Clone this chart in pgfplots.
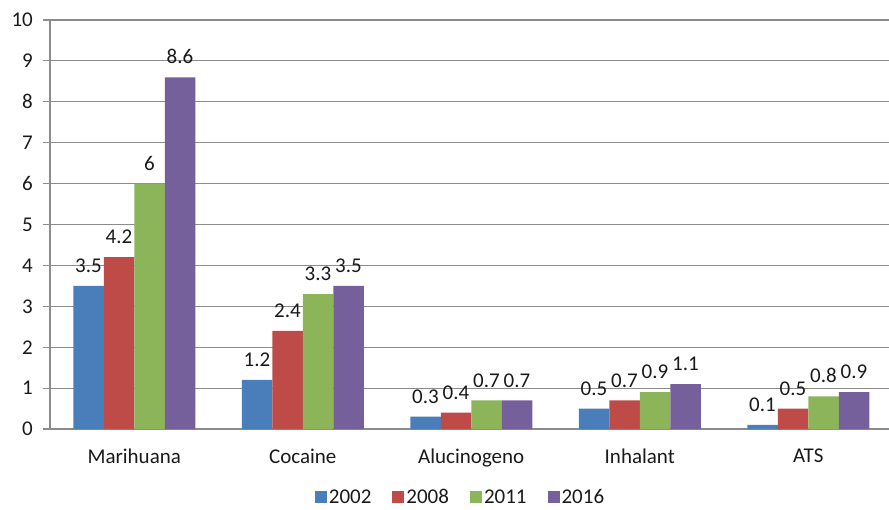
\documentclass[border=0pt]{standalone}
\usepackage{pgfplots}
\pgfplotsset{compat=1.18}
\usepackage{fontspec}
\setmainfont{Carlito}

\definecolor{c2002}{HTML}{4A7EBB}
\definecolor{c2008}{HTML}{BE4B48}
\definecolor{c2011}{HTML}{8CB55A}
\definecolor{c2016}{HTML}{76609B}
\definecolor{gridgrey}{HTML}{8C8C8C}
\definecolor{txt}{HTML}{1A1A1A}

\begin{document}
\fontsize{21}{25}\selectfont
\begin{tikzpicture}
\useasboundingbox (0,0) rectangle (889pt,509pt);
\begin{axis}[
  at={(50pt,80pt)}, anchor=south west,
  scale only axis, width=839pt, height=409pt,
  xmin=-0.5, xmax=4.479, ymin=0, ymax=10,
  ybar=0pt, bar width=30.5pt,
  axis x line*=bottom, axis y line*=left,
  axis line style={gridgrey, line width=1.2pt},
  ymajorgrids, grid style={gridgrey, line width=1.2pt},
  ytick={0,1,...,10},
  xtick={0,1,2,3,4},
  xticklabels={Marihuana,Cocaine,Alucinogeno,Inhalant,ATS},
  extra x ticks={-0.5,0.5,1.5,2.5,3.5},
  extra x tick labels={},
  extra x tick style={major tick length=7pt, tick style={gridgrey, line width=1.2pt}},
  x tick style={draw=none},
  y tick style={gridgrey, line width=1.2pt},
  tick align=outside, major tick length=7pt,
  tick label style={font=\fontsize{21}{25}\selectfont, text=txt},
  xticklabel style={yshift=-6pt},
  yticklabel style={xshift=-3pt},
  /pgf/number format/assume math mode=true,
  nodes near coords,
  nodes near coords style={font=\fontsize{21}{25}\selectfont, text=txt, yshift=6pt,
    /pgf/number format/fixed, /pgf/number format/precision=1},
  legend columns=4,
  legend style={at={(0.5,-69pt)}, anchor=center, xshift=-18.5pt,
    draw=none, fill=none,
    font=\fontsize{21}{25}\selectfont, text=txt,
    nodes={inner sep=2pt}},
  % square swatch with a gap in front of it that separates the entries
  legend image code/.code={\path (0pt,0pt); \fill[#1] (19pt,-5pt) rectangle (31pt,7pt);},
  clip=false,
]
\addplot[fill=c2002, draw=none] coordinates {(0,3.5) (1,1.2) (2,0.3) (3,0.5) (4,0.1)};
\addplot[fill=c2008, draw=none] coordinates {(0,4.2) (1,2.4) (2,0.4) (3,0.7) (4,0.5)};
\addplot[fill=c2011, draw=none] coordinates {(0,6) (1,3.3) (2,0.7) (3,0.9) (4,0.8)};
\addplot[fill=c2016, draw=none] coordinates {(0,8.6) (1,3.5) (2,0.7) (3,1.1) (4,0.9)};
\legend{2002,2008,2011,2016}
\end{axis}
\end{tikzpicture}
\end{document}
